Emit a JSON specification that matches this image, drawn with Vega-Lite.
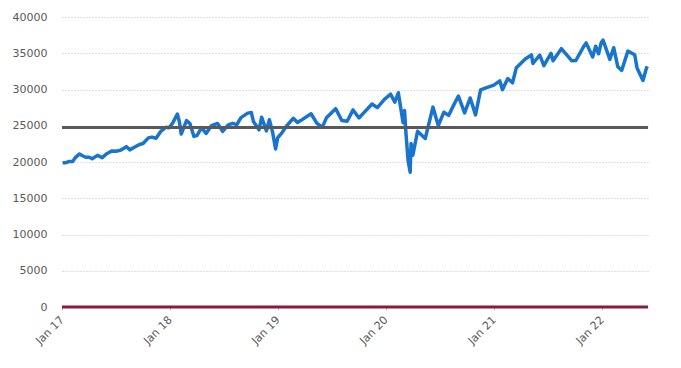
{
  "$schema": "https://vega.github.io/schema/vega-lite/v6.json",
  "autosize": {"type": "none"},
  "width": 586,
  "height": 290,
  "padding": {"left": 62, "top": 17, "right": 33, "bottom": 61},
  "background": "white",
  "config": {"view": {"stroke": null}, "font": "DejaVu Sans"},
  "layer": [
    {
      "data": {"values": [
        {"date": "2017-01-03", "value": 19881}, {"date": "2017-01-12", "value": 19891}, {"date": "2017-01-25", "value": 20068},
        {"date": "2017-02-06", "value": 20052}, {"date": "2017-02-15", "value": 20611}, {"date": "2017-03-01", "value": 21115},
        {"date": "2017-03-10", "value": 20903}, {"date": "2017-03-22", "value": 20661}, {"date": "2017-04-03", "value": 20650},
        {"date": "2017-04-13", "value": 20453}, {"date": "2017-05-01", "value": 20913}, {"date": "2017-05-17", "value": 20606},
        {"date": "2017-06-01", "value": 21144}, {"date": "2017-06-19", "value": 21528}, {"date": "2017-07-03", "value": 21479},
        {"date": "2017-07-19", "value": 21641}, {"date": "2017-08-07", "value": 22118}, {"date": "2017-08-18", "value": 21674},
        {"date": "2017-09-01", "value": 21988}, {"date": "2017-09-20", "value": 22412}, {"date": "2017-10-02", "value": 22557},
        {"date": "2017-10-20", "value": 23329}, {"date": "2017-11-01", "value": 23435}, {"date": "2017-11-15", "value": 23272},
        {"date": "2017-12-01", "value": 24231}, {"date": "2017-12-18", "value": 24792}, {"date": "2017-12-29", "value": 24719},
        {"date": "2018-01-10", "value": 25369}, {"date": "2018-01-26", "value": 26617}, {"date": "2018-02-02", "value": 25521},
        {"date": "2018-02-08", "value": 23860}, {"date": "2018-02-26", "value": 25709}, {"date": "2018-03-09", "value": 25336},
        {"date": "2018-03-23", "value": 23533}, {"date": "2018-04-02", "value": 23644}, {"date": "2018-04-18", "value": 24748},
        {"date": "2018-05-03", "value": 23930}, {"date": "2018-05-21", "value": 25013}, {"date": "2018-06-11", "value": 25322},
        {"date": "2018-06-28", "value": 24216}, {"date": "2018-07-17", "value": 25120}, {"date": "2018-08-01", "value": 25333},
        {"date": "2018-08-15", "value": 25162}, {"date": "2018-08-29", "value": 26124}, {"date": "2018-09-21", "value": 26743},
        {"date": "2018-10-03", "value": 26828}, {"date": "2018-10-10", "value": 25598}, {"date": "2018-10-29", "value": 24443},
        {"date": "2018-11-07", "value": 26180}, {"date": "2018-11-23", "value": 24285}, {"date": "2018-12-03", "value": 25826},
        {"date": "2018-12-14", "value": 24100}, {"date": "2018-12-24", "value": 21792}, {"date": "2018-12-31", "value": 23327},
        {"date": "2019-01-15", "value": 24065}, {"date": "2019-02-01", "value": 25063}, {"date": "2019-02-22", "value": 26031},
        {"date": "2019-03-08", "value": 25450}, {"date": "2019-03-20", "value": 25745}, {"date": "2019-04-23", "value": 26656},
        {"date": "2019-05-13", "value": 25324}, {"date": "2019-05-31", "value": 24815}, {"date": "2019-06-14", "value": 26089},
        {"date": "2019-07-15", "value": 27359}, {"date": "2019-08-05", "value": 25718}, {"date": "2019-08-23", "value": 25628},
        {"date": "2019-09-12", "value": 27182}, {"date": "2019-10-02", "value": 26078}, {"date": "2019-10-18", "value": 26770},
        {"date": "2019-11-15", "value": 28004}, {"date": "2019-12-03", "value": 27503}, {"date": "2019-12-27", "value": 28645},
        {"date": "2020-01-17", "value": 29348}, {"date": "2020-01-31", "value": 28256}, {"date": "2020-02-12", "value": 29551},
        {"date": "2020-02-28", "value": 25409}, {"date": "2020-03-04", "value": 27091}, {"date": "2020-03-09", "value": 23851},
        {"date": "2020-03-16", "value": 20188}, {"date": "2020-03-23", "value": 18591}, {"date": "2020-03-26", "value": 22552},
        {"date": "2020-04-01", "value": 20943}, {"date": "2020-04-17", "value": 24242}, {"date": "2020-05-13", "value": 23247},
        {"date": "2020-06-08", "value": 27572}, {"date": "2020-06-26", "value": 25016}, {"date": "2020-07-15", "value": 26870},
        {"date": "2020-07-31", "value": 26428}, {"date": "2020-08-17", "value": 27844}, {"date": "2020-09-02", "value": 29100},
        {"date": "2020-09-23", "value": 26763}, {"date": "2020-10-12", "value": 28837}, {"date": "2020-10-30", "value": 26502},
        {"date": "2020-11-16", "value": 29950}, {"date": "2020-12-04", "value": 30218}, {"date": "2020-12-31", "value": 30606},
        {"date": "2021-01-20", "value": 31188}, {"date": "2021-01-29", "value": 29983}, {"date": "2021-02-16", "value": 31523},
        {"date": "2021-03-04", "value": 30924}, {"date": "2021-03-17", "value": 33015}, {"date": "2021-04-16", "value": 34200},
        {"date": "2021-05-07", "value": 34778}, {"date": "2021-05-12", "value": 33587}, {"date": "2021-06-04", "value": 34756},
        {"date": "2021-06-18", "value": 33290}, {"date": "2021-07-12", "value": 34996}, {"date": "2021-07-19", "value": 33962},
        {"date": "2021-08-16", "value": 35625}, {"date": "2021-09-20", "value": 33970}, {"date": "2021-10-04", "value": 34002},
        {"date": "2021-10-29", "value": 35820}, {"date": "2021-11-08", "value": 36432}, {"date": "2021-11-30", "value": 34483},
        {"date": "2021-12-10", "value": 35971}, {"date": "2021-12-20", "value": 34932}, {"date": "2021-12-29", "value": 36488},
        {"date": "2022-01-04", "value": 36800}, {"date": "2022-01-27", "value": 34160}, {"date": "2022-02-09", "value": 35768},
        {"date": "2022-02-23", "value": 33132}, {"date": "2022-03-08", "value": 32632}, {"date": "2022-03-29", "value": 35295},
        {"date": "2022-04-21", "value": 34793}, {"date": "2022-04-29", "value": 32977}, {"date": "2022-05-19", "value": 31253},
        {"date": "2022-05-31", "value": 32990}, {"date": "2022-06-03", "value": 33200}
      ]},
      "mark": {"type": "line", "color": "#1874CD", "strokeWidth": 3.5, "strokeJoin": "round"},
      "encoding": {
        "x": {
          "field": "date", "type": "temporal",
          "scale": {"domain": ["2017-01-01", "2022-06-05"]},
          "axis": {
            "title": null, "format": "%b %y", "tickCount": {"interval": "year", "step": 1},
            "labelAngle": -45, "labelAlign": "right", "labelBaseline": "middle",
            "labelColor": "#595959", "labelFontSize": 11, "labelPadding": 8,
            "domain": false, "grid": false, "ticks": true, "tickSize": 3, "tickColor": "#BFBFBF"
          }
        },
        "y": {
          "field": "value", "type": "quantitative",
          "scale": {"domain": [0, 40000], "nice": false},
          "axis": {
            "title": null, "values": [0, 5000, 10000, 15000, 20000, 25000, 30000, 35000, 40000],
            "labelOverlap": false,
            "format": "d", "labelColor": "#595959", "labelFontSize": 11, "labelPadding": 15,
            "domain": false, "ticks": false, "gridColor": "#BFBFBF", "gridDash": [1, 2], "gridWidth": 1
          }
        }
      }
    },
    {
      "data": {"values": [{"level": 24750}]},
      "mark": {"type": "rule", "color": "#595959", "strokeWidth": 3},
      "encoding": {"y": {"field": "level", "type": "quantitative",
        "axis": {
            "title": null, "values": [0, 5000, 10000, 15000, 20000, 25000, 30000, 35000, 40000],
            "labelOverlap": false,
            "format": "d", "labelColor": "#595959", "labelFontSize": 11, "labelPadding": 15,
            "domain": false, "ticks": false, "gridColor": "#BFBFBF", "gridDash": [1, 2], "gridWidth": 1
        }}}
    },
    {
      "data": {"values": [{"level": 0}]},
      "mark": {"type": "rule", "color": "#8B1A3A", "strokeWidth": 3},
      "encoding": {"y": {"field": "level", "type": "quantitative",
        "axis": {
            "title": null, "values": [0, 5000, 10000, 15000, 20000, 25000, 30000, 35000, 40000],
            "labelOverlap": false,
            "format": "d", "labelColor": "#595959", "labelFontSize": 11, "labelPadding": 15,
            "domain": false, "ticks": false, "gridColor": "#BFBFBF", "gridDash": [1, 2], "gridWidth": 1
        }}}
    }
  ]
}
